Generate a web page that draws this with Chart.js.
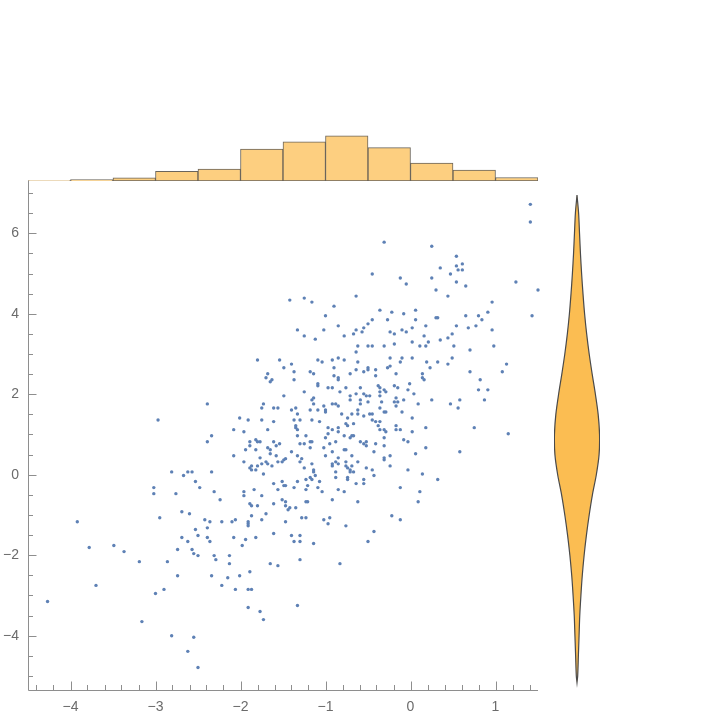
<!DOCTYPE html>
<html lang="en">
<head>
<meta charset="UTF-8">
<title>Scatter with marginal histogram and violin</title>
<script src="https://cdn.jsdelivr.net/npm/chart.js"></script>
<style>
  body { margin: 0; background: #fff; }
  #wrap { position: relative; width: 720px; height: 720px; }
  #wrap canvas { position: absolute; left: 0; top: 0; }
</style>
</head>
<body>
<div id="wrap">
  <canvas id="scatter" width="720" height="720"></canvas>
  <canvas id="hist" width="720" height="720"></canvas>
  <canvas id="violin" width="720" height="720"></canvas>
</div>
<script>
// scatter points [x, y]
const scatterPoints = [
  [-2.97,1.36],[-2.81,0.07],[-2.67,-0.02],[-2.62,0.07],[-2.57,0.07],[-3.02,-0.32],[-3.02,-0.47],[-2.76,-0.47],[-2.53,-0.17],[-2.48,-0.32],
  [-3.92,-1.17],[-2.95,-1.07],[-2.69,-0.92],[-2.60,-0.97],[-2.42,-1.12],[-3.78,-1.81],[-3.49,-1.76],[-3.37,-1.91],[-3.19,-2.16],[-2.86,-2.16],
  [-2.74,-1.86],[-2.69,-1.56],[-2.62,-1.66],[-2.53,-1.36],[-2.50,-1.51],[-2.57,-1.86],[-2.55,-1.96],[-2.50,-2.01],[-2.74,-2.51],[-3.70,-2.75],
  [-3.00,-2.95],[-2.90,-2.85],[-4.27,-3.15],[-3.16,-3.65],[-2.81,-4.00],[-2.55,-4.04],[-2.62,-4.39],[-2.50,-4.79],
  [-2.34,-2.51],[-2.15,-2.56],[-2.01,-2.51],[-2.22,-2.75],[-2.06,-2.85],[-1.91,-2.85],[-1.87,-2.85],[-1.91,-3.30],[-1.77,-3.40],[-1.73,-3.60],[-1.33,-3.25],
  [-1.42,4.34],[-1.25,4.39],[-1.16,4.29],[-1.33,3.60],[-1.25,3.45],[-1.12,3.37],
  [-0.31,5.78],[-0.45,4.99],[-0.12,4.89],[-0.05,4.74],[-0.64,4.44],[-0.90,4.19],[-1.00,3.95],[-0.36,4.09],[-0.22,4.04],[-0.08,4.00],
  [0.06,4.09],[-0.45,3.85],[-0.27,3.85],[0.06,3.85],[-0.85,3.70],[-0.50,3.75],[-0.55,3.65],[-1.02,3.60],[-0.64,3.60],[-0.57,3.55],
  [-0.67,3.50],[-0.78,3.45],[-0.24,3.55],[-0.19,3.50],[-0.10,3.60],[-0.05,3.55],[0.02,3.65],[0.18,3.70],[0.16,3.45],
  [1.41,6.72],[1.41,6.28],[0.25,5.68],[0.54,5.43],[0.61,5.24],[0.54,5.19],[0.56,5.09],[0.61,5.09],[0.35,5.14],[0.47,4.99],
  [0.25,4.89],[0.54,4.79],[0.65,4.69],[1.24,4.79],[0.30,4.59],[1.50,4.59],[0.44,4.44],[0.96,4.29],[0.91,4.04],[0.30,3.90],
  [0.32,3.90],[0.65,3.95],[0.80,3.95],[0.84,3.85],[1.43,3.95],[0.54,3.70],[0.68,3.65],[0.77,3.70],[0.96,3.60],[0.49,3.50],
  [0.44,3.40],[0.35,3.35],
  [-1.80,2.85],[-1.54,2.85],[-1.40,2.75],[-1.49,2.66],[-1.37,2.56],[-1.18,2.56],[-1.14,2.51],[-1.68,2.51],[-1.70,2.41],[-1.63,2.36],
  [-1.65,2.31],[-1.37,2.36],[-1.25,2.06],[-1.49,1.96],[-2.39,1.76],[-1.73,1.76],[-1.75,1.66],[-1.61,1.66],[-1.56,1.66],[-1.40,1.61],
  [-1.35,1.66],[-1.18,1.61],[-1.16,1.86],[-1.14,1.76],[-1.33,1.51],[-2.01,1.41],[-1.91,1.36],[-1.75,1.36],[-1.61,1.32],[-1.37,1.36],
  [-1.30,1.36],[-1.16,1.36],[-1.35,1.22],[-1.35,1.17],[-1.33,1.12],[-2.08,1.12],[-1.96,1.07],[-1.68,1.12],[-2.34,0.97],[-2.39,0.82],
  [-1.33,0.97],[-1.23,0.97],[-1.89,0.82],[-1.82,0.87],[-1.80,0.82],[-1.77,0.82],[-1.89,0.72],[-1.61,0.82],[-1.54,0.77],[-1.58,0.72],
  [-1.30,0.77],[-1.25,0.77],[-1.18,0.82],[-1.16,0.82],[-1.18,0.67],[-1.94,0.62],[-1.82,0.62],[-1.68,0.67],[-1.65,0.62],[-1.65,0.52],
  [-1.40,0.57],[-2.08,0.47],[-1.77,0.42],[-1.58,0.47],[-1.47,0.40],[-1.33,0.47],[-1.28,0.40],
  [-0.62,3.20],[-0.50,3.20],[-0.45,3.20],[-0.31,3.20],[-0.19,3.25],[0.02,3.30],[0.11,3.20],[0.18,3.20],[-0.64,3.05],[-1.09,2.85],
  [-1.04,2.80],[-0.92,2.85],[-0.85,2.90],[-0.78,2.85],[-0.62,2.80],[-0.24,2.90],[-0.10,2.90],[-0.12,2.80],[0.02,2.90],[0.19,2.80],
  [-0.90,2.66],[-0.64,2.61],[-0.55,2.56],[-0.50,2.66],[-0.50,2.61],[-0.41,2.61],[-0.27,2.66],[-0.24,2.70],[-0.90,2.46],[-0.71,2.51],
  [-0.41,2.46],[-0.17,2.51],[0.14,2.51],[0.14,2.41],[0.16,2.36],[-0.85,2.41],[-0.85,2.36],[-1.09,2.26],[-1.09,2.21],[-0.38,2.21],
  [-0.19,2.21],[-0.01,2.26],[-0.97,2.16],[-0.92,2.16],[-0.76,2.16],[-0.59,2.16],[-0.36,2.16],[-0.15,2.16],[-0.31,2.11],[-0.03,2.11],
  [-0.36,2.06],[-0.29,2.06],[-0.83,2.06],[-0.64,2.01],[-0.55,2.01],[-0.52,1.96],[-0.48,1.96],[-0.36,1.96],[0.04,2.01],[-1.14,1.91],
  [-0.71,1.96],[-0.71,1.86],[-0.59,1.86],[-0.17,1.91],[-0.19,1.81],[-0.15,1.81],[-0.08,1.86],[-0.50,1.81],[-0.34,1.81],[-1.02,1.71],
  [-0.92,1.76],[-0.88,1.76],[-0.85,1.71],[-0.59,1.76],[-0.17,1.71],[0.09,1.76],[-1.09,1.61],[-1.00,1.61],[-1.00,1.56],[-0.36,1.66],
  [-0.31,1.56],[-0.29,1.56],[-0.62,1.61],[-0.62,1.51],[-0.69,1.51],[-0.81,1.51],[-0.48,1.51],[-0.45,1.51],[-0.55,1.46],[-0.10,1.56],
  [-0.74,1.41],[0.02,1.41],[-0.45,1.36],[-0.41,1.32],[-0.36,1.32],[-1.07,1.32],[-0.67,1.27],[-0.76,1.27],[-0.74,1.22],[-0.38,1.22],
  [-0.17,1.22],[-0.97,1.17],[-0.92,1.12],[-0.85,1.17],[-0.85,1.07],[-0.36,1.12],[-0.31,1.12],[-0.29,1.07],[-0.17,1.12],[-0.12,1.12],
  [0.02,1.07],[0.18,1.17],[-0.97,1.02],[-1.00,0.92],[-0.78,0.97],[-0.71,0.92],[-0.69,0.97],[-0.67,0.97],[-0.88,0.82],[-0.59,0.82],
  [-0.55,0.77],[-0.52,0.72],[-0.52,0.82],[-0.41,0.77],[-0.31,0.92],[-0.31,0.72],[-0.08,0.87],[-0.03,0.82],[0.18,0.67],[-0.95,0.77],
  [-1.02,0.67],[-0.78,0.62],[-0.76,0.62],[-0.92,0.57],[-0.69,0.47],[-0.43,0.57],[-0.24,0.47],[0.06,0.52],[-1.00,0.47],[-0.85,0.42],
  [-0.31,0.42],
  [0.21,3.30],[0.51,3.20],[0.70,3.10],[0.98,3.20],[0.49,2.90],[0.32,2.80],[0.44,2.75],[0.23,2.66],[1.13,2.75],[0.70,2.56],
  [1.08,2.56],[0.82,2.36],[0.80,2.11],[0.91,2.11],[0.25,1.86],[0.58,1.86],[0.87,1.86],[0.47,1.76],[0.56,1.66],[0.75,1.17],
  [1.15,1.02],[0.58,0.57],
  [-1.96,0.32],[-1.89,0.17],[-1.87,0.22],[-1.87,0.12],[-1.82,0.12],[-1.80,0.22],[-1.75,0.27],[-1.70,0.32],[-1.68,0.27],[-1.63,0.22],
  [-1.56,0.32],[-1.51,0.32],[-1.49,0.37],[-1.30,0.32],[-1.16,0.27],[-1.25,0.17],[-2.34,0.07],[-1.73,0.02],[-1.18,-0.07],[-1.23,-0.12],
  [-1.16,-0.12],[-1.61,-0.22],[-1.51,-0.17],[-1.49,-0.27],[-1.47,-0.27],[-1.33,-0.17],[-1.21,-0.27],[-1.37,-0.32],[-1.23,-0.37],[-1.56,-0.37],
  [-1.84,-0.37],[-2.31,-0.42],[-1.96,-0.42],[-1.96,-0.52],[-1.75,-0.52],[-2.24,-0.62],[-1.51,-0.62],[-1.47,-0.67],[-1.23,-0.67],[-1.21,-0.67],
  [-1.89,-0.72],[-1.87,-0.77],[-1.80,-0.77],[-1.61,-0.72],[-1.47,-0.77],[-1.42,-0.82],[-1.44,-0.87],[-1.35,-0.82],[-1.70,-0.97],[-1.87,-1.02],
  [-2.36,-1.17],[-2.22,-1.17],[-2.10,-1.17],[-2.06,-1.12],[-1.91,-1.17],[-1.91,-1.22],[-1.91,-1.27],[-1.75,-1.12],[-1.47,-1.17],[-1.28,-1.07],
  [-1.23,-1.07],[-2.39,-1.32],[-1.61,-1.46],[-2.39,-1.56],[-2.36,-1.66],[-2.08,-1.56],[-1.94,-1.61],[-1.82,-1.56],[-1.40,-1.51],[-1.30,-1.51],
  [-1.37,-1.66],[-1.30,-1.66],[-1.98,-1.76],[-1.14,-1.71],[-2.31,-2.01],[-2.29,-2.11],[-2.13,-2.01],[-2.13,-2.21],[-1.30,-2.11],[-1.65,-2.21],
  [-1.56,-2.26],[-1.89,-2.41],
  [-1.14,0.12],[-1.14,0.07],[-1.12,-0.02],[-0.92,0.27],[-0.92,0.22],[-0.88,0.32],[-0.85,0.27],[-0.76,0.32],[-0.76,0.22],[-0.74,0.17],
  [-0.71,0.12],[-0.71,0.07],[-0.69,0.22],[-0.67,0.07],[-0.62,0.32],[-0.52,0.17],[-0.45,0.12],[-0.31,0.37],[-0.24,0.22],[-0.03,0.12],
  [0.14,0.02],[-0.88,0.07],[-0.88,-0.07],[-0.74,-0.07],[-0.74,-0.12],[-0.55,-0.12],[-0.55,-0.22],[-0.43,-0.02],[-0.64,-0.22],[-1.07,-0.17],
  [-1.09,-0.32],[-1.04,-0.42],[-0.85,-0.37],[-0.78,-0.42],[-0.12,-0.32],[0.11,-0.42],[-0.92,-0.62],[-0.62,-0.67],[0.09,-0.67],[-0.22,-1.02],
  [-0.12,-1.12],[-1.02,-1.12],[-0.95,-1.07],[-0.97,-1.22],[-0.76,-1.27],[-0.43,-1.41],[-0.50,-1.66],[-0.83,-2.21],
  [0.32,-0.12]
];

// histogram of x (bin edges and counts)
const histBinEdges = [-4.5, -4, -3.5, -3, -2.5, -2, -1.5, -1, -0.5, 0, 0.5, 1, 1.5];
const histCounts = [1, 3, 7, 22, 27, 73, 89, 103, 76, 41, 25, 8];

// violin of y: levels and relative half widths
const violinY = [6.95, 6.5, 6.0, 5.5, 5.0, 4.5, 4.0, 3.5, 3.0, 2.5, 2.0, 1.5, 1.0, 0.5, 0.0, -0.5, -1.0, -1.5, -2.0, -2.5, -3.0, -3.5, -4.0, -4.5, -5.0, -5.16];
const violinWidth = [0, 0.07, 0.11, 0.15, 0.2, 0.26, 0.33, 0.42, 0.53, 0.66, 0.8, 0.92, 0.98, 0.96, 0.84, 0.67, 0.53, 0.41, 0.31, 0.23, 0.17, 0.12, 0.09, 0.06, 0.03, 0];

const xTickLabels = [-4, -3, -2, -1, 0, 1];
const yTickLabels = [-4, -2, 0, 2, 4, 6];

const AXIS_COLOR = '#8e8e8e';
const LABEL_COLOR = '#6b6b6b';
const FONT = { family: '"Liberation Sans", Arial, sans-serif', size: 14 };

function minusSign(v) {
  return String(v).replace('-', '\u2212');
}

// Mathematica-style axes: left and bottom lines, ticks pointing inward
const frameTicks = {
  id: 'frameTicks',
  afterDatasetsDraw(chart) {
    const { ctx, chartArea: a, scales: { x, y } } = chart;
    ctx.save();
    ctx.strokeStyle = AXIS_COLOR;
    ctx.lineWidth = 1;
    ctx.beginPath();
    ctx.moveTo(a.left + 0.5, a.top);
    ctx.lineTo(a.left + 0.5, a.bottom + 0.5);
    ctx.lineTo(a.right, a.bottom + 0.5);
    for (let k = -22; k <= 7; k++) {
      const px = Math.round(x.getPixelForValue(k * 0.2)) + 0.5;
      const len = k % 5 === 0 ? 8.5 : 5;
      ctx.moveTo(px, a.bottom);
      ctx.lineTo(px, a.bottom - len);
    }
    for (let k = -10; k <= 14; k++) {
      const py = Math.round(y.getPixelForValue(k * 0.5)) + 0.5;
      const len = k % 4 === 0 ? 8.5 : 5;
      ctx.moveTo(a.left, py);
      ctx.lineTo(a.left + len, py);
    }
    ctx.stroke();
    ctx.restore();
  }
};

new Chart(document.getElementById('scatter'), {
  type: 'scatter',
  data: {
    datasets: [{
      data: scatterPoints.map(p => ({ x: p[0], y: p[1] })),
      pointRadius: 1.7,
      pointBorderWidth: 0,
      pointBackgroundColor: '#5e81b5',
      clip: false
    }]
  },
  options: {
    responsive: false,
    animation: false,
    events: [],
    layout: { padding: { left: 0, top: 181, right: 182, bottom: 0 } },
    plugins: { legend: { display: false }, tooltip: { enabled: false } },
    scales: {
      x: {
        type: 'linear', min: -4.5, max: 1.5,
        grid: { display: false, drawTicks: false },
        border: { display: false },
        afterBuildTicks: s => { s.ticks = xTickLabels.map(v => ({ value: v })); },
        afterFit: s => { s.height = 30; },
        ticks: { padding: 9, color: LABEL_COLOR, font: FONT, maxRotation: 0, autoSkip: false, callback: v => minusSign(v) }
      },
      y: {
        type: 'linear', min: -5.35, max: 7.3,
        grid: { display: false, drawTicks: false },
        border: { display: false },
        afterBuildTicks: s => { s.ticks = yTickLabels.map(v => ({ value: v })); },
        afterFit: s => { s.width = 28; },
        ticks: { padding: 9, color: LABEL_COLOR, font: FONT, autoSkip: false, callback: v => minusSign(v) }
      }
    }
  },
  plugins: [frameTicks]
});

new Chart(document.getElementById('hist'), {
  type: 'bar',
  data: {
    datasets: [{
      data: histCounts.map((c, i) => ({ x: (histBinEdges[i] + histBinEdges[i + 1]) / 2, y: c })),
      backgroundColor: '#fdcf80',
      borderColor: 'rgba(70, 62, 50, 0.8)',
      borderWidth: 1,
      borderSkipped: false,
      barPercentage: 1,
      categoryPercentage: 1
    }]
  },
  options: {
    responsive: false,
    animation: false,
    events: [],
    layout: { padding: { left: 28, right: 182, top: 120, bottom: 539 } },
    plugins: { legend: { display: false }, tooltip: { enabled: false } },
    scales: {
      x: {
        type: 'linear', display: false, offset: false, min: -4.5, max: 1.5,
        afterBuildTicks: s => { s.ticks = histBinEdges.map(v => ({ value: v })); }
      },
      y: { display: false, min: 0, max: 139 }
    }
  }
});

const violinOutline = violinY.map((v, i) => ({ x: violinWidth[i], y: v }))
  .concat(violinY.map((v, i) => ({ x: -violinWidth[i], y: v })).reverse());

new Chart(document.getElementById('violin'), {
  type: 'scatter',
  data: {
    datasets: [{
      data: violinOutline,
      showLine: true,
      fill: 'shape',
      tension: 0.3,
      pointRadius: 0,
      borderColor: '#4a4a4a',
      borderWidth: 1.2,
      backgroundColor: '#fbbd52'
    }]
  },
  options: {
    responsive: false,
    animation: false,
    events: [],
    layout: { padding: { left: 554, top: 181, right: 120, bottom: 30 } },
    plugins: { legend: { display: false }, tooltip: { enabled: false } },
    scales: {
      x: { display: false, min: -1, max: 1 },
      y: { display: false, min: -5.35, max: 7.3 }
    }
  }
});
</script>
</body>
</html>
